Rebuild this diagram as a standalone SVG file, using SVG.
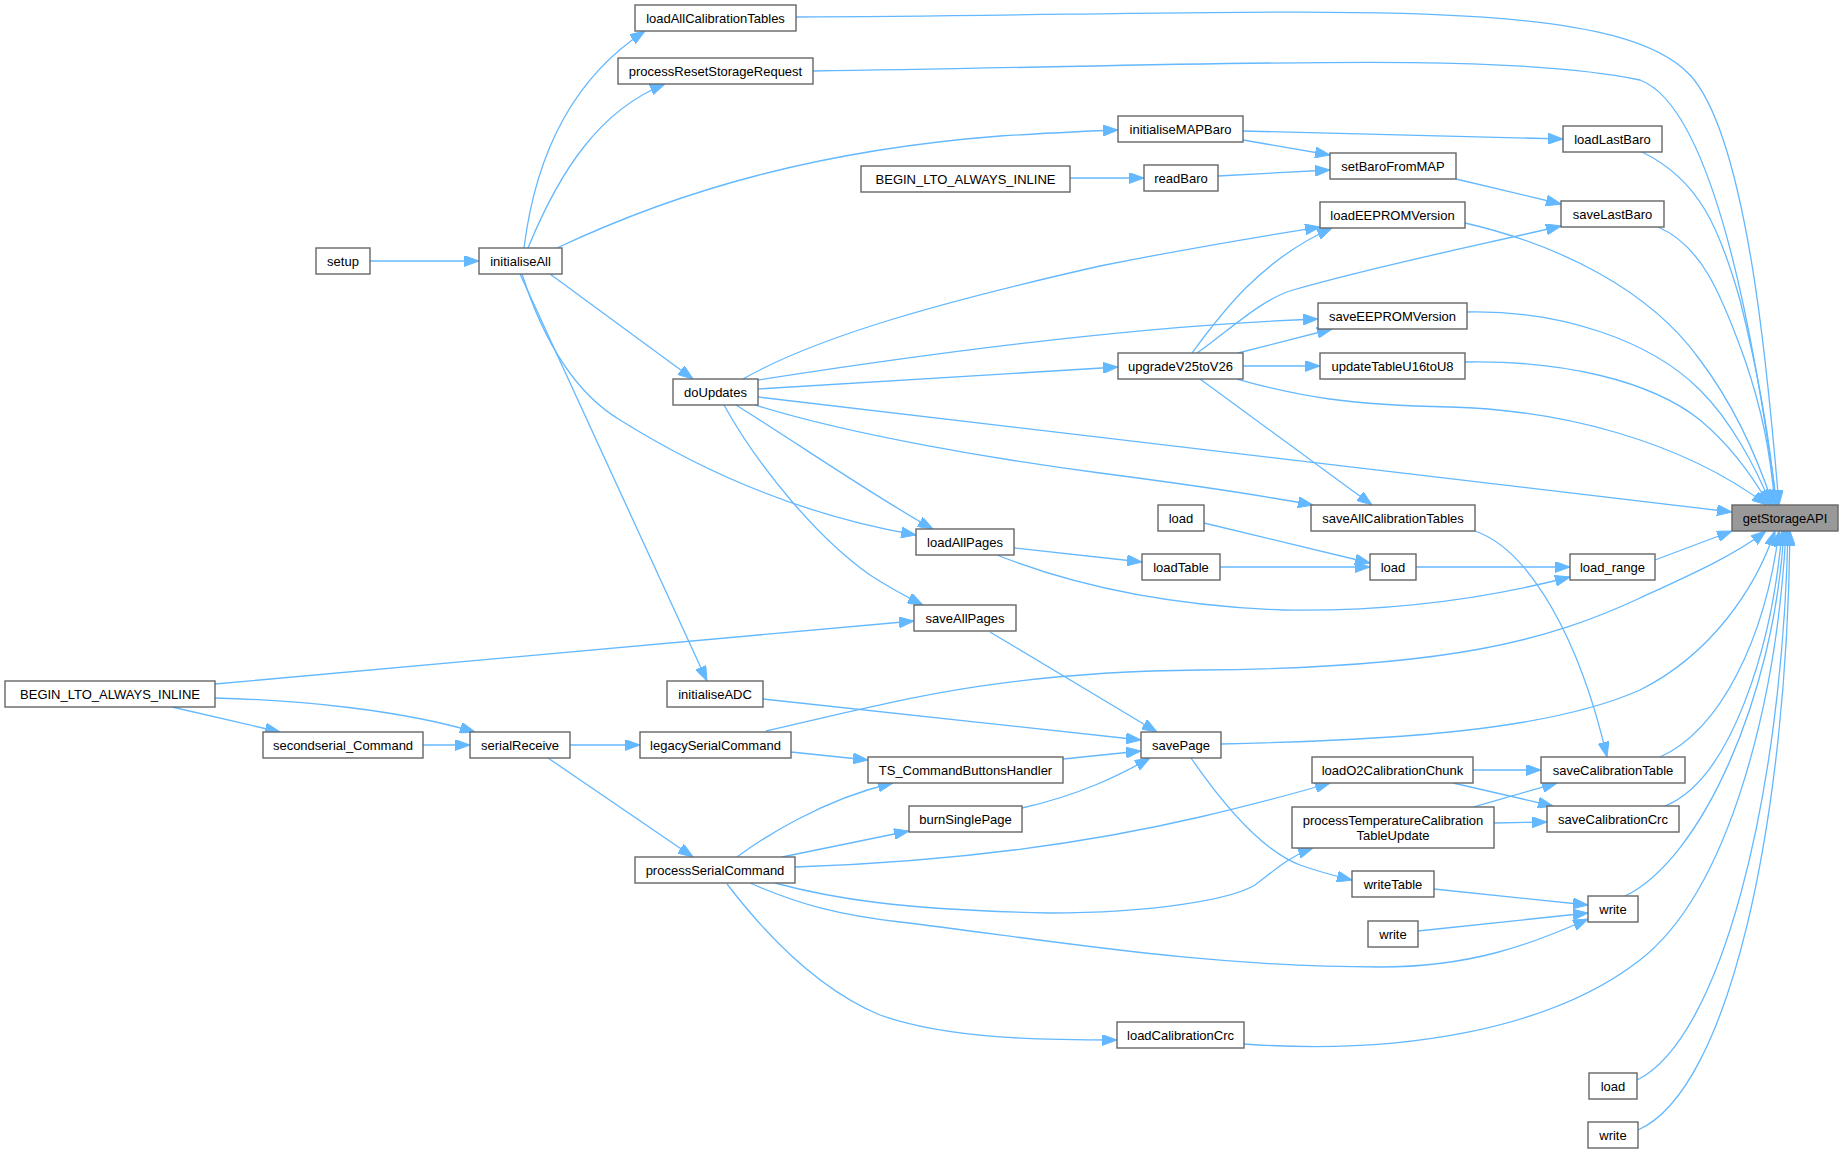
<svg xmlns="http://www.w3.org/2000/svg" width="1844" height="1154" viewBox="0 0 1844 1154">
<defs>
<marker id="ah" viewBox="0 0 15 11" markerWidth="15" markerHeight="11" refX="15" refY="5.5" orient="auto" markerUnits="userSpaceOnUse">
<path d="M0,0 L15,5.5 L0,11 z" fill="#63b8ff" stroke="#63b8ff" stroke-width="1"/>
</marker>
</defs>
<style>
.e{fill:none;stroke:#63b8ff;stroke-width:1.3;marker-end:url(#ah)}
.n rect{fill:#ffffff;stroke:#666666;stroke-width:1.4}
.n.root rect{fill:#999999}
.n text{font-family:"Liberation Sans",Arial,Helvetica,sans-serif;font-size:13px;fill:#000000;text-anchor:middle}
</style>
<rect x="0" y="0" width="1844" height="1154" fill="#ffffff"/>
<g id="edges">
<path class="e" d="M796,17 C1300,15 1610,-10 1690,75 C1750,140 1770,400 1779,505"/>
<path class="e" d="M813,71 C1200,66 1500,50 1640,80 C1720,110 1760,380 1777,505"/>
<path class="e" d="M1642,152 C1700,180 1720,230 1740,300 C1760,380 1770,440 1776,505"/>
<path class="e" d="M1658,227 C1700,245 1720,290 1745,360 C1762,410 1770,450 1775,505"/>
<path class="e" d="M1465,223 C1560,245 1650,290 1700,360 C1730,400 1755,450 1773,505"/>
<path class="e" d="M1467,312 C1560,310 1650,340 1700,390 C1730,420 1755,465 1771,505"/>
<path class="e" d="M1465,362 C1560,360 1650,380 1700,420 C1730,445 1752,475 1769,505"/>
<path class="e" d="M1237,379 C1300,397 1350,405 1450,407 C1560,410 1680,440 1767,505"/>
<path class="e" d="M758,397 L1732,512"/>
<path class="e" d="M1655,560 L1732,531"/>
<path class="e" d="M766,731 C900,700 1000,672 1200,670 C1450,668 1550,640 1640,598 C1690,575 1735,555 1766,531"/>
<path class="e" d="M1221,744 C1400,740 1550,730 1640,690 C1710,655 1755,590 1775,531"/>
<path class="e" d="M1660,757 C1720,730 1765,640 1779,531"/>
<path class="e" d="M1665,806 C1730,780 1772,650 1782,531"/>
<path class="e" d="M1625,896 C1700,860 1774,700 1784,531"/>
<path class="e" d="M1244,1044 C1400,1055 1550,1030 1640,960 C1730,890 1777,700 1786,531"/>
<path class="e" d="M1637,1080 C1720,1040 1782,800 1788,531"/>
<path class="e" d="M1638,1130 C1730,1090 1787,820 1790,531"/>
<path class="e" d="M524,248 C535,160 570,80 645,31"/>
<path class="e" d="M528,248 C560,170 600,110 665,84"/>
<path class="e" d="M370,261 L479,261"/>
<path class="e" d="M557,248 C680,190 820,150 1000,136 C1050,133 1090,131 1118,130"/>
<path class="e" d="M1243,131 L1563,139"/>
<path class="e" d="M1243,140 L1330,155"/>
<path class="e" d="M1218,176 L1330,170"/>
<path class="e" d="M1070,178 L1144,178"/>
<path class="e" d="M1456,179 L1561,204"/>
<path class="e" d="M743,379 C820,335 950,300 1100,266 C1200,246 1270,235 1320,227"/>
<path class="e" d="M1192,353 C1220,315 1260,260 1332,228"/>
<path class="e" d="M1197,353 C1230,330 1260,300 1293,290 C1380,265 1480,245 1561,226"/>
<path class="e" d="M758,380 C950,350 1150,325 1318,319"/>
<path class="e" d="M1238,353 L1332,329"/>
<path class="e" d="M1243,366 L1320,366"/>
<path class="e" d="M758,389 L1118,367"/>
<path class="e" d="M550,274 L693,379"/>
<path class="e" d="M755,405 C850,435 1000,460 1100,473 C1200,486 1270,497 1313,505"/>
<path class="e" d="M1200,379 L1372,505"/>
<path class="e" d="M1475,531 C1530,550 1580,640 1607,757"/>
<path class="e" d="M1204,523 L1370,563"/>
<path class="e" d="M1220,567 L1370,567"/>
<path class="e" d="M1416,567 L1570,567"/>
<path class="e" d="M997,555 C1060,580 1150,605 1283,610 C1400,612 1500,595 1570,577"/>
<path class="e" d="M1014,548 L1142,562"/>
<path class="e" d="M522,274 C540,330 570,390 620,420 C700,470 800,515 916,535"/>
<path class="e" d="M736,405 C800,445 880,500 933,529"/>
<path class="e" d="M724,405 C760,470 820,540 870,575 C890,588 905,596 923,605"/>
<path class="e" d="M215,684 L914,621"/>
<path class="e" d="M215,698 C300,700 400,710 475,732"/>
<path class="e" d="M172,707 L280,732"/>
<path class="e" d="M423,745 L470,745"/>
<path class="e" d="M570,745 L640,745"/>
<path class="e" d="M548,758 L693,857"/>
<path class="e" d="M520,274 L707,681"/>
<path class="e" d="M763,699 L1141,740"/>
<path class="e" d="M791,752 L868,760"/>
<path class="e" d="M737,857 C760,840 820,800 893,783"/>
<path class="e" d="M1063,759 L1141,751"/>
<path class="e" d="M782,857 L909,831"/>
<path class="e" d="M1022,808 C1080,795 1120,775 1150,758"/>
<path class="e" d="M990,632 L1157,732"/>
<path class="e" d="M1191,758 C1220,800 1260,850 1300,865 C1320,872 1335,876 1352,880"/>
<path class="e" d="M795,867 C950,862 1080,845 1200,817 C1250,805 1290,795 1330,783"/>
<path class="e" d="M775,883 C830,898 900,910 1050,913 C1150,913 1230,900 1255,885 C1275,870 1290,856 1313,848"/>
<path class="e" d="M750,883 C800,905 840,915 900,922 C1050,940 1200,967 1380,967 C1470,967 1530,945 1588,919"/>
<path class="e" d="M727,884 C770,940 820,990 880,1015 C950,1040 1050,1040 1117,1040"/>
<path class="e" d="M1473,770 L1541,770"/>
<path class="e" d="M1453,783 L1553,806"/>
<path class="e" d="M1473,807 L1557,783"/>
<path class="e" d="M1494,823 L1547,822"/>
<path class="e" d="M1434,889 L1588,905"/>
<path class="e" d="M1418,931 L1588,913"/>
</g>
<g id="n_getStorageAPI" class="n root"><rect x="1732" y="505" width="106" height="26"/><text x="1785" y="522.5">getStorageAPI</text></g>
<g id="n_loadAllCalibrationTables" class="n"><rect x="635" y="5" width="161" height="26"/><text x="715.5" y="22.5">loadAllCalibrationTables</text></g>
<g id="n_processResetStorageRequest" class="n"><rect x="618" y="58" width="195" height="26"/><text x="715.5" y="75.5">processResetStorageRequest</text></g>
<g id="n_loadLastBaro" class="n"><rect x="1563" y="126" width="99" height="26"/><text x="1612.5" y="143.5">loadLastBaro</text></g>
<g id="n_initialiseMAPBaro" class="n"><rect x="1118" y="116" width="125" height="26"/><text x="1180.5" y="133.5">initialiseMAPBaro</text></g>
<g id="n_setBaroFromMAP" class="n"><rect x="1330" y="153" width="126" height="26"/><text x="1393" y="170.5">setBaroFromMAP</text></g>
<g id="n_BEGIN_LTO_top" class="n"><rect x="861" y="166" width="209" height="26"/><text x="965.5" y="183.5">BEGIN_LTO_ALWAYS_INLINE</text></g>
<g id="n_readBaro" class="n"><rect x="1144" y="165" width="74" height="26"/><text x="1181" y="182.5">readBaro</text></g>
<g id="n_saveLastBaro" class="n"><rect x="1561" y="201" width="103" height="26"/><text x="1612.5" y="218.5">saveLastBaro</text></g>
<g id="n_loadEEPROMVersion" class="n"><rect x="1320" y="202" width="145" height="26"/><text x="1392.5" y="219.5">loadEEPROMVersion</text></g>
<g id="n_setup" class="n"><rect x="316" y="248" width="54" height="26"/><text x="343" y="265.5">setup</text></g>
<g id="n_initialiseAll" class="n"><rect x="479" y="248" width="83" height="26"/><text x="520.5" y="265.5">initialiseAll</text></g>
<g id="n_saveEEPROMVersion" class="n"><rect x="1318" y="303" width="149" height="26"/><text x="1392.5" y="320.5">saveEEPROMVersion</text></g>
<g id="n_upgradeV25toV26" class="n"><rect x="1118" y="353" width="125" height="26"/><text x="1180.5" y="370.5">upgradeV25toV26</text></g>
<g id="n_updateTableU16toU8" class="n"><rect x="1320" y="353" width="145" height="26"/><text x="1392.5" y="370.5">updateTableU16toU8</text></g>
<g id="n_doUpdates" class="n"><rect x="673" y="379" width="85" height="26"/><text x="715.5" y="396.5">doUpdates</text></g>
<g id="n_saveAllCalibrationTables" class="n"><rect x="1311" y="505" width="164" height="26"/><text x="1393" y="522.5">saveAllCalibrationTables</text></g>
<g id="n_load_top" class="n"><rect x="1158" y="505" width="46" height="26"/><text x="1181" y="522.5">load</text></g>
<g id="n_loadAllPages" class="n"><rect x="916" y="529" width="98" height="26"/><text x="965" y="546.5">loadAllPages</text></g>
<g id="n_loadTable" class="n"><rect x="1142" y="554" width="78" height="26"/><text x="1181" y="571.5">loadTable</text></g>
<g id="n_load_mid" class="n"><rect x="1370" y="554" width="46" height="26"/><text x="1393" y="571.5">load</text></g>
<g id="n_load_range" class="n"><rect x="1570" y="554" width="85" height="26"/><text x="1612.5" y="571.5">load_range</text></g>
<g id="n_saveAllPages" class="n"><rect x="914" y="605" width="102" height="26"/><text x="965" y="622.5">saveAllPages</text></g>
<g id="n_BEGIN_LTO_left" class="n"><rect x="5" y="681" width="210" height="26"/><text x="110" y="698.5">BEGIN_LTO_ALWAYS_INLINE</text></g>
<g id="n_initialiseADC" class="n"><rect x="667" y="681" width="96" height="26"/><text x="715" y="698.5">initialiseADC</text></g>
<g id="n_secondserial_Command" class="n"><rect x="263" y="732" width="160" height="26"/><text x="343" y="749.5">secondserial_Command</text></g>
<g id="n_serialReceive" class="n"><rect x="470" y="732" width="100" height="26"/><text x="520" y="749.5">serialReceive</text></g>
<g id="n_legacySerialCommand" class="n"><rect x="640" y="732" width="151" height="26"/><text x="715.5" y="749.5">legacySerialCommand</text></g>
<g id="n_savePage" class="n"><rect x="1141" y="732" width="80" height="26"/><text x="1181" y="749.5">savePage</text></g>
<g id="n_TS_CommandButtonsHandler" class="n"><rect x="868" y="757" width="195" height="26"/><text x="965.5" y="774.5">TS_CommandButtonsHandler</text></g>
<g id="n_loadO2CalibrationChunk" class="n"><rect x="1312" y="757" width="161" height="26"/><text x="1392.5" y="774.5">loadO2CalibrationChunk</text></g>
<g id="n_saveCalibrationTable" class="n"><rect x="1541" y="757" width="144" height="26"/><text x="1613" y="774.5">saveCalibrationTable</text></g>
<g id="n_burnSinglePage" class="n"><rect x="909" y="806" width="113" height="26"/><text x="965.5" y="823.5">burnSinglePage</text></g>
<g id="n_processTemperatureCalibrationTableUpdate" class="n"><rect x="1292" y="807" width="202" height="41"/><text x="1393" y="825">processTemperatureCalibration</text><text x="1393" y="840">TableUpdate</text></g>
<g id="n_saveCalibrationCrc" class="n"><rect x="1547" y="806" width="132" height="26"/><text x="1613" y="823.5">saveCalibrationCrc</text></g>
<g id="n_processSerialCommand" class="n"><rect x="635" y="857" width="160" height="26"/><text x="715" y="874.5">processSerialCommand</text></g>
<g id="n_writeTable" class="n"><rect x="1352" y="871" width="82" height="26"/><text x="1393" y="888.5">writeTable</text></g>
<g id="n_write_mid" class="n"><rect x="1588" y="896" width="50" height="26"/><text x="1613" y="913.5">write</text></g>
<g id="n_write_left" class="n"><rect x="1368" y="921" width="50" height="26"/><text x="1393" y="938.5">write</text></g>
<g id="n_loadCalibrationCrc" class="n"><rect x="1117" y="1022" width="127" height="26"/><text x="1180.5" y="1039.5">loadCalibrationCrc</text></g>
<g id="n_load_bottom" class="n"><rect x="1589" y="1073" width="48" height="26"/><text x="1613" y="1090.5">load</text></g>
<g id="n_write_bottom" class="n"><rect x="1588" y="1122" width="50" height="26"/><text x="1613" y="1139.5">write</text></g>
</svg>
